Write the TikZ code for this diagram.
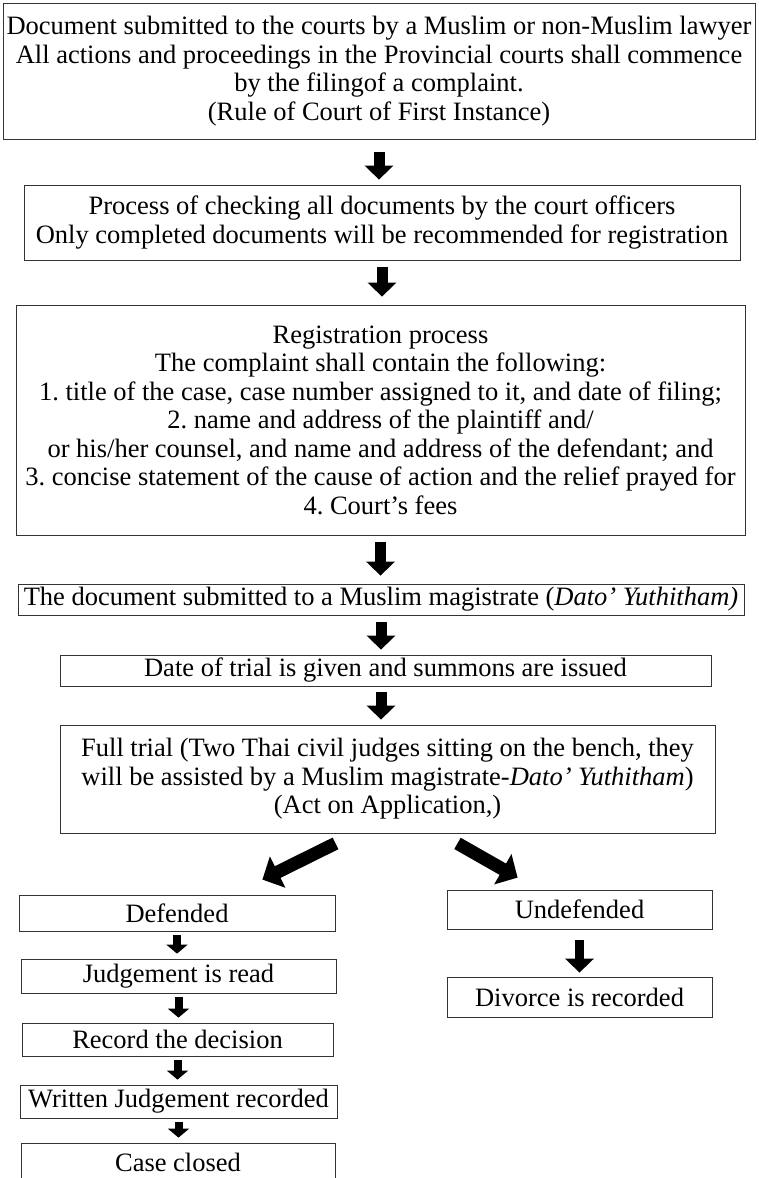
\documentclass[tikz,border=0pt]{standalone}
\usepackage{fontspec}
\setmainfont{Liberation Serif}
\usepackage{tikz}
\usetikzlibrary{calc,arrows.meta}

\tikzset{
  stage/.style={draw=black!80,line width=0.8pt,align=center,inner sep=0pt,
    font=\fontsize{26.5}{28.5}\selectfont},
  bigarrow/.style={line width=11pt,-{Triangle[length=14pt,width=28pt]}},
  smallarrow/.style={line width=8pt,-{Triangle[length=9pt,width=21pt]},shorten <=4pt,shorten >=5pt},
  diagarrow/.style={line width=13pt,-{Triangle[length=17pt,width=34pt]}}
}

\begin{document}
\begin{tikzpicture}[x=1pt,y=-1pt]
\useasboundingbox (0,0) rectangle (758,1178);
\node (filing) at (379,71) [stage,minimum width=752pt,minimum height=136pt]
  {Document submitted to the courts by a Muslim or non-Muslim lawyer\\
   All actions and proceedings in the Provincial courts shall commence\\
   by the filingof a complaint.\\
   (Rule of Court of First Instance)};
\node (checking) at (382,222.5) [stage,minimum width=716pt,minimum height=75pt]
  {Process of checking all documents by the court officers\\
   Only completed documents will be recommended for registration};
\node (registration) at (380.5,420) [stage,minimum width=729pt,minimum height=230pt]
  {Registration process\\
   The complaint shall contain the following:\\
   1.\ title of the case, case number assigned to it, and date of filing;\\
   2.\ name and address of the plaintiff and/\\
   or his/her counsel, and name and address of the defendant; and\\
   3.\ concise statement of the cause of action and the relief prayed for\\
   4.\ Court’s fees};
\node (magistrate) at (381,599.5) [stage,minimum width=726pt,minimum height=31pt]
  {The document submitted to a Muslim magistrate (\textit{Dato’ Yuthitham)}};
\node (summons) at (385.5,670.5) [stage,minimum width=651pt,minimum height=31pt]
  {Date of trial is given and summons are issued};
\node (trial) at (387.5,779) [stage,minimum width=655pt,minimum height=108pt]
  {Full trial (Two Thai civil judges sitting on the bench, they\\
   will be assisted by a Muslim magistrate-\textit{Dato’ Yuthitham})\\
   (Act on Application,)};
\node (defended) at (177,913) [stage,minimum width=316pt,minimum height=36pt] {Defended};
\node (read) at (178.5,976) [stage,minimum width=315pt,minimum height=34pt] {Judgement is read};
\node (decision) at (177.5,1039.5) [stage,minimum width=311pt,minimum height=33pt] {Record the decision};
\node (written) at (178.5,1101.5) [stage,minimum width=317pt,minimum height=33pt] {Written Judgement recorded};
\node (closed) at (178,1162.5) [stage,minimum width=314pt,minimum height=39pt] {Case closed};
\node (undefended) at (579.5,909.5) [stage,minimum width=265pt,minimum height=39pt] {Undefended};
\node (divorce) at (579.5,997) [stage,minimum width=265pt,minimum height=40pt] {Divorce is recorded};

\draw[bigarrow,shorten <=13pt,shorten >=5pt] (filing.south) -- (filing.south |- checking.north);
\draw[bigarrow,shorten <=7pt,shorten >=8pt] (checking.south) -- (checking.south |- registration.north);
\draw[bigarrow,shorten <=7pt,shorten >=8pt] (registration.south) -- (registration.south |- magistrate.north);
\draw[bigarrow,shorten <=7pt,shorten >=5pt] (magistrate.south) -- (magistrate.south |- summons.north);
\draw[bigarrow,shorten <=6pt,shorten >=5pt] (summons.south -| magistrate.south) -- (magistrate.south |- trial.north);
\foreach \a/\b in {defended/read,read/decision,decision/written,written/closed}
  \draw[smallarrow] (\a.south) -- (\a.south |- \b.north);
\draw[bigarrow,line width=9pt,shorten <=11pt,shorten >=4pt] (undefended.south) -- (divorce.north);
\coordinate (leftend) at ($(defended.north east)+(-73,-15)$);
\coordinate (rightend) at ($(undefended.north west)+(71,-12)$);
\draw[diagarrow] ($(trial.south)+(-52,10)$) -- (leftend);
\draw[diagarrow] ($(trial.south)+(70,10)$) -- (rightend);
\end{tikzpicture}
\end{document}
